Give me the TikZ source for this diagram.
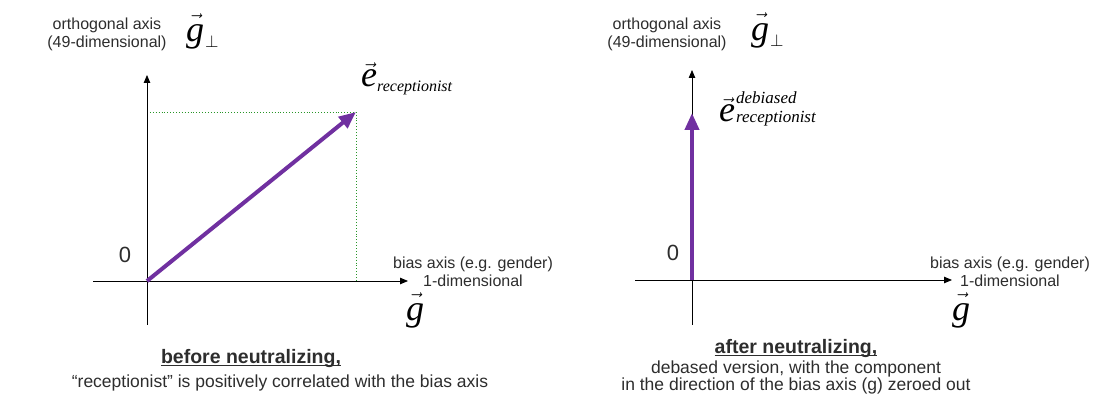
\documentclass[tikz,border=0pt]{standalone}
\usepackage{fontspec}
\setmainfont{Liberation Sans}
\newfontfamily\vecfont{Liberation Serif}
\usetikzlibrary{arrows.meta,positioning}
\definecolor{vecPurple}{RGB}{112,48,160}
\definecolor{projGreen}{RGB}{40,150,40}
\definecolor{txtGray}{RGB}{45,45,45}
% small vector arrow over a large letter
\newcommand{\arrowed}[2][0pt]{{\fontsize{24}{24}\selectfont
 $\vec{\mbox{\fontsize{36}{36}\selectfont#2\rule{0pt}{\dimexpr16.5pt+#1\relax}}}$}}

\begin{document}
\begin{tikzpicture}[x=1pt,y=-1pt,font=\fontsize{16}{18}\selectfont,
 axlbl/.style={align=center,text=txtGray,inner sep=0pt},
 caption/.style={text=txtGray,inner sep=0pt,anchor=base,font=\fontsize{17.5}{20}\selectfont},
 capbold/.style={caption,font=\bfseries\fontsize{19.5}{20}\selectfont},
 uline/.style={txtGray,line width=1.4pt},
 zero/.style={inner sep=0pt,text=txtGray,font=\fontsize{22}{22}\selectfont},
 vlbl/.style={inner sep=0pt,anchor=base west,font=\vecfont\itshape\fontsize{36}{36}\selectfont},
 axis/.style={-{Triangle[length=8pt,width=6.5pt]},line width=.8pt},
 vec/.style={-{Triangle[length=17pt,width=14pt]},line width=4pt,vecPurple},
 proj/.style={projGreen,dotted,line width=.9pt}]
\path[use as bounding box] (0,0) rectangle (1095,403);
% before neutralizing
\coordinate (o1) at (147,281);
\coordinate (v1) at (147,75);
\coordinate (vb1) at (147,325);
\coordinate (h1) at (408,281);
\coordinate (hb1) at (93,281);
\coordinate (e1) at (356,112);
\coordinate (c1) at (147,112);
\coordinate (f1) at (356,281);
\draw[proj] (c1) -- (e1) -- (f1);
\draw[axis] (vb1) -- (v1);
\draw[axis] (hb1) -- (h1);
\draw[vec] (o1) -- (e1);
\node[zero] (zero1) at (125,255) {0};
\node[axlbl] (orth1) at (107,34) {orthogonal axis\\(49-dimensional)};
\node[vlbl] (gperp1) at (186,42) {\arrowed[5pt]{g}\kern1pt\raisebox{-6pt}{\fontsize{17}{17}\selectfont$\perp$}};
\node[axlbl] (bias1) at (473,272) {bias axis (e.g. gender)\\1-dimensional};
\node[vlbl] (g1) at (406,320) {\arrowed[4pt]{g}};
\node[vlbl] (erec1) at (361,87) {\arrowed{e}\raisebox{-5pt}{\fontsize{16}{16}\selectfont receptionist}};
\node[capbold] (cap1a) at (251,363) {before neutralizing,};
\draw[uline] ([yshift=-2.5pt]cap1a.base west) -- ([yshift=-2.5pt]cap1a.base east);
\node[caption] (cap1b) at (280,387) {“receptionist” is positively correlated with the bias axis};
% after neutralizing
\coordinate (o2) at (692,280);
\coordinate (v2) at (692,70);
\coordinate (vb2) at (692,325);
\coordinate (h2) at (952,280);
\coordinate (hb2) at (635,280);
\coordinate (e2) at (692,113);
\draw[axis] (vb2) -- (v2);
\draw[axis] (hb2) -- (h2);
\draw[vec] (o2) -- (e2);
\node[zero] (zero2) at (673,253) {0};
\node[axlbl] (orth2) at (667,34) {orthogonal axis\\(49-dimensional)};
\node[vlbl] (gperp2) at (751,41) {\arrowed[5pt]{g}\kern1pt\raisebox{-6pt}{\fontsize{17}{17}\selectfont$\perp$}};
\node[axlbl] (bias2) at (1010,272) {bias axis (e.g. gender)\\1-dimensional};
\node[vlbl] (g2) at (952,320) {\arrowed[4pt]{g}};
\node[vlbl] (edeb2) at (719,122) {\arrowed{e}\kern1pt\rlap{\raisebox{18pt}{\fontsize{17}{17}\selectfont debiased}}\raisebox{-1pt}{\fontsize{17}{17}\selectfont receptionist}};
\node[capbold] (cap2a) at (796,353) {after neutralizing,};
\draw[uline] ([yshift=-2.5pt]cap2a.base west) -- ([yshift=-2.5pt]cap2a.base east);
\node[caption] (cap2b) at (796,373) {debased version, with the component};
\node[caption] (cap2c) at (796,390) {in the direction of the bias axis (g) zeroed out};
\end{tikzpicture}
\end{document}
